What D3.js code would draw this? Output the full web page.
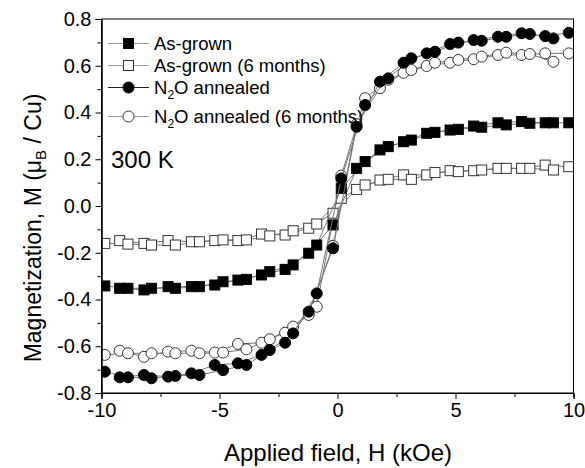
<!DOCTYPE html>
<html>
<head>
<meta charset="utf-8">
<script src="https://d3js.org/d3.v7.min.js"></script>
<style>
  body { margin: 0; background: #fff; }
  text { font-family: "Liberation Sans", Arial, sans-serif; }
</style>
</head>
<body>
<svg id="drawing_region"></svg>
<script>
// field values (kOe), sweep from +10 down and from -10 up
const fieldDown = [9.8, 8.8, 7.8, 6.8, 5.77, 4.77, 3.78, 2.8, 1.8, 0.81, -0.19, -1.22, -2.22, -3.22, -4.22, -5.2, -6.19, -7.18, -8.2, -9.23];
const fieldUp   = [-9.86, -8.88, -7.88, -6.87, -5.85, -4.85, -3.86, -2.87, -1.88, -0.88, 0.16, 1.17, 2.15, 3.13, 4.13, 5.12, 6.11, 7.15, 8.15, 9.15];

// magnetization (muB / Cu)
const asGrownDown = [0.356, 0.356, 0.361, 0.356, 0.342, 0.325, 0.311, 0.275, 0.240, 0.161, -0.081, -0.202, -0.271, -0.295, -0.317, -0.338, -0.345, -0.345, -0.359, -0.352];
const asGrownUp   = [-0.342, -0.352, -0.352, -0.352, -0.345, -0.324, -0.314, -0.281, -0.252, -0.167, 0.076, 0.190, 0.254, 0.282, 0.315, 0.328, 0.337, 0.347, 0.354, 0.356];

const asGrown6Down = [0.168, 0.175, 0.161, 0.161, 0.151, 0.151, 0.133, 0.133, 0.111, 0.071, -0.031, -0.095, -0.124, -0.120, -0.148, -0.148, -0.153, -0.148, -0.160, -0.148];
const asGrown6Up   = [-0.160, -0.163, -0.167, -0.167, -0.153, -0.145, -0.145, -0.128, -0.106, -0.077, 0.033, 0.090, 0.114, 0.114, 0.143, 0.147, 0.154, 0.161, 0.161, 0.154];

const annealedDown = [0.741, 0.727, 0.739, 0.724, 0.710, 0.693, 0.653, 0.613, 0.532, 0.339, -0.181, -0.452, -0.585, -0.637, -0.673, -0.680, -0.716, -0.730, -0.723, -0.733];
const annealedUp   = [-0.709, -0.733, -0.737, -0.727, -0.723, -0.702, -0.680, -0.616, -0.545, -0.374, 0.118, 0.432, 0.546, 0.632, 0.660, 0.699, 0.707, 0.724, 0.736, 0.717];

const annealed6Down = [0.653, 0.653, 0.646, 0.646, 0.628, 0.613, 0.599, 0.570, 0.504, 0.350, -0.170, -0.466, -0.542, -0.585, -0.590, -0.627, -0.619, -0.623, -0.645, -0.619];
const annealed6Up   = [-0.637, -0.630, -0.630, -0.630, -0.630, -0.627, -0.613, -0.570, -0.516, -0.431, 0.130, 0.461, 0.540, 0.582, 0.613, 0.625, 0.639, 0.656, 0.650, 0.617];

const xTicks = [-10, -5, 0, 5, 10];
const xMinorTicks = [-7.5, -2.5, 2.5, 7.5];
const yTicks = [-0.8, -0.6, -0.4, -0.2, 0.0, 0.2, 0.4, 0.6, 0.8];
const yMinorTicks = [-0.7, -0.5, -0.3, -0.1, 0.1, 0.3, 0.5, 0.7];

const seriesNames = ["As-grown", "As-grown (6 months)", "N2O annealed", "N2O annealed (6 months)"];

const series = [
    {name: seriesNames[0], shape: "square", filled: true,  down: asGrownDown,  up: asGrownUp},
    {name: seriesNames[1], shape: "square", filled: false, down: asGrown6Down, up: asGrown6Up},
    {name: seriesNames[2], shape: "circle", filled: true,  down: annealedDown, up: annealedUp},
    {name: seriesNames[3], shape: "circle", filled: false, down: annealed6Down, up: annealed6Up}
];

class HysteresisPlot {
    constructor( config, data ){
        this.config = config;
        this.data = data;
        this.init();
    }

    init(){
        let self = this;
        self.svg = d3.select( self.config.parent )
                     .attr('width', self.config.width)
                     .attr('height', self.config.height);

        self.xscale = d3.scaleLinear().domain([-10, 10]).range([101.5, 573.5]);
        self.yscale = d3.scaleLinear().domain([-0.8, 0.8]).range([393, 19]);

        self.svg.append('clipPath').attr('id', 'plot_clip')
            .append('rect')
            .attr('x', 101.5).attr('y', 19)
            .attr('width', 472).attr('height', 374);

        self.line = d3.line()
            .x( d => self.xscale(d[0]) )
            .y( d => self.yscale(d[1]) );
    }

    marker( g, shape, filled, cx, cy ){
        if (shape == "square") {
            g.append('rect')
             .attr('x', cx - 5).attr('y', cy - 5)
             .attr('width', 10).attr('height', 10)
             .attr('fill', filled ? '#000' : '#fff')
             .attr('stroke', filled ? '#000' : '#333')
             .attr('stroke-width', 1);
        } else {
            g.append('circle')
             .attr('cx', cx).attr('cy', cy).attr('r', 5.5)
             .attr('fill', filled ? '#000' : '#fff')
             .attr('stroke', filled ? '#000' : '#333')
             .attr('stroke-width', 1);
        }
    }

    render(){
        let self = this;
        const plot = self.svg.append('g').attr('clip-path', 'url(#plot_clip)');

        // open symbols first, filled on top
        const order = [3, 1, 0, 2];
        order.forEach( i => {
            const s = self.data[i];
            const down = fieldDown.map( (h, k) => [h, s.down[k]] );
            const up = fieldUp.map( (h, k) => [h, s.up[k]] );
            const g = plot.append('g');
            [down, up].forEach( branch => {
                g.append('path')
                 .attr('d', self.line(branch))
                 .attr('fill', 'none')
                 .attr('stroke', '#777')
                 .attr('stroke-width', 1);
            });
            down.concat(up).forEach( p => {
                self.marker(g, s.shape, s.filled, self.xscale(p[0]), self.yscale(p[1]));
            });
        });

        // frame
        self.svg.append('rect')
            .attr('x', 101.5).attr('y', 19)
            .attr('width', 472).attr('height', 374)
            .attr('fill', 'none').attr('stroke', '#000').attr('stroke-width', 1);

        // axes
        const xAxis = self.svg.append('g').attr('transform', 'translate(0,393)')
            .call( d3.axisBottom(self.xscale).tickValues(xTicks).tickSize(6).tickPadding(4)
                   .tickFormat( d => d.toString() ) );
        self.svg.append('g').attr('transform', 'translate(0,393)')
            .call( d3.axisBottom(self.xscale).tickValues(xMinorTicks).tickSize(4).tickFormat('') );
        const yAxis = self.svg.append('g').attr('transform', 'translate(101.5,0)')
            .call( d3.axisLeft(self.yscale).tickValues(yTicks).tickSize(6).tickPadding(4)
                   .tickFormat( d => d.toFixed(1) ) );
        self.svg.append('g').attr('transform', 'translate(101.5,0)')
            .call( d3.axisLeft(self.yscale).tickValues(yMinorTicks).tickSize(4).tickFormat('') );

        self.svg.selectAll('.domain').attr('stroke', '#000');
        self.svg.selectAll('.tick line').attr('stroke', '#000');
        xAxis.selectAll('text').style('font-size', '20px').attr('fill', '#000')
             .style('font-family', '"Liberation Sans", Arial, sans-serif');
        yAxis.selectAll('text').style('font-size', '20px').attr('fill', '#000')
             .style('font-family', '"Liberation Sans", Arial, sans-serif');

        // axis titles
        self.svg.append('text')
            .attr('x', 338).attr('y', 461)
            .attr('text-anchor', 'middle')
            .style('font-size', '24px')
            .text('Applied field, H (kOe)');

        const yt = self.svg.append('text')
            .attr('transform', 'translate(41,228) rotate(-90)')
            .attr('text-anchor', 'middle')
            .style('font-size', '23px');
        yt.append('tspan').text('Magnetization, M (\u03BC');
        yt.append('tspan').attr('dy', 5).style('font-size', '15px').text('B');
        yt.append('tspan').attr('dy', -5).text(' / Cu)');

        self.svg.append('text')
            .attr('x', 111).attr('y', 168)
            .style('font-size', '24px')
            .text('300 K');

        // legend
        const rows = [43.5, 65.5, 87.5, 116.5];
        const lineColors = ['#999', '#999', '#222', '#999'];
        self.data.forEach( (s, i) => {
            const g = self.svg.append('g');
            g.append('line')
             .attr('x1', 108).attr('x2', 149)
             .attr('y1', rows[i]).attr('y2', rows[i])
             .attr('stroke', lineColors[i]).attr('stroke-width', 1.2);
            self.marker(g, s.shape, s.filled, 128.5, rows[i]);
            const t = g.append('text')
             .attr('x', 154).attr('y', rows[i] + 6.5)
             .style('font-size', '18.5px');
            if (s.name.startsWith('N2O')) {
                t.append('tspan').text('N');
                t.append('tspan').attr('dy', 5).style('font-size', '12px').text('2');
                t.append('tspan').attr('dy', -5).text('O' + s.name.slice(3));
            } else {
                t.text(s.name);
            }
        });
    }
}

const config = {
    parent: '#drawing_region',
    width: 585,
    height: 468
};

const plot = new HysteresisPlot( config, series );
plot.render();
</script>
</body>
</html>
